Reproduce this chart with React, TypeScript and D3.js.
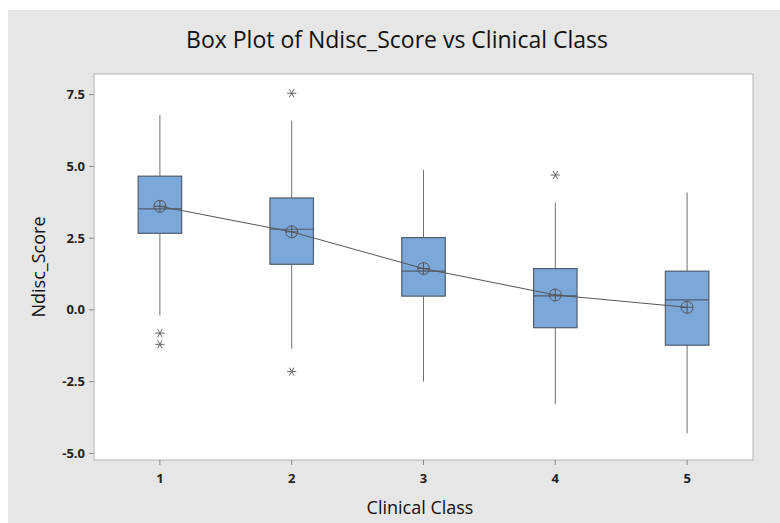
import * as d3 from "d3";

// Clinical classes and box statistics
const classes = [1, 2, 3, 4, 5];
const q1 = [2.67, 1.59, 0.48, -0.62, -1.23];
const median = [3.52, 2.81, 1.35, 0.49, 0.35];
const q3 = [4.66, 3.9, 2.52, 1.44, 1.35];
const whiskerLow = [-0.19, -1.36, -2.5, -3.28, -4.3];
const whiskerHigh = [6.79, 6.59, 4.88, 3.74, 4.09];
const means = [3.61, 2.72, 1.44, 0.52, 0.09];
const outliers = [
  [-0.81, -1.2],
  [7.55, -2.15],
  [],
  [4.7],
  [],
];
const yTicks = [-5, -2.5, 0, 2.5, 5, 7.5];

const W = 780;
const H = 523;
const plot = { left: 94, right: 753, top: 74, bottom: 460 };

const App = () => {
  const x = d3.scaleLinear().domain([0.5, 5.5]).range([plot.left, plot.right]);
  const y = d3.scaleLinear().domain([-5.23, 8.22]).range([plot.bottom, plot.top]);
  const boxW = (x(2) - x(1)) * 0.33;

  const meanLine = d3
    .line<number>()
    .x((_, i) => x(classes[i]))
    .y((d) => y(d));

  const star = d3.symbol(d3.symbolAsterisk, 60)();

  return (
    <svg
      width={W}
      height={H}
      style={{ position: "absolute", left: 0, top: 0 }}
      fontFamily="'Open Sans', sans-serif"
    >
      <rect x={8} y={10} width={W - 8} height={H - 10} fill="#e6e6e6" />
      <rect
        x={plot.left}
        y={plot.top}
        width={plot.right - plot.left}
        height={plot.bottom - plot.top}
        fill="#fff"
        stroke="#b4b4b4"
      />
      <text x={397} y={48} textAnchor="middle" fontSize={23} fill="#111">
        Box Plot of Ndisc_Score vs Clinical Class
      </text>

      {/* y axis */}
      {yTicks.map((t) => (
        <g key={t} transform={`translate(0,${y(t)})`}>
          <line x1={plot.left - 5} x2={plot.left} stroke="#888" />
          <text
            x={plot.left - 9}
            dy="0.35em"
            textAnchor="end"
            fontSize={13}
            fontWeight="bold"
            fill="#222"
          >
            {t.toFixed(1)}
          </text>
        </g>
      ))}
      <text
        transform={`translate(45,${(plot.top + plot.bottom) / 2}) rotate(-90)`}
        textAnchor="middle"
        fontSize={18}
        fill="#111"
      >
        Ndisc_Score
      </text>

      {/* x axis */}
      {classes.map((c) => (
        <g key={c} transform={`translate(${x(c)},${plot.bottom})`}>
          <line y1={0} y2={5} stroke="#888" />
          <text y={23} textAnchor="middle" fontSize={13} fontWeight="bold" fill="#222">
            {c}
          </text>
        </g>
      ))}
      <text x={420} y={514} textAnchor="middle" fontSize={18} fill="#111">
        Clinical Class
      </text>

      {/* boxes */}
      {classes.map((c, i) => {
        const cx = x(c);
        return (
          <g key={c}>
            <line x1={cx} x2={cx} y1={y(q3[i])} y2={y(whiskerHigh[i])} stroke="#707070" />
            <line x1={cx} x2={cx} y1={y(q1[i])} y2={y(whiskerLow[i])} stroke="#707070" />
            <rect
              x={cx - boxW / 2}
              y={y(q3[i])}
              width={boxW}
              height={y(q1[i]) - y(q3[i])}
              fill="#7ba7d9"
              stroke="#505d6c"
              strokeWidth={1.2}
            />
            <line
              x1={cx - boxW / 2}
              x2={cx + boxW / 2}
              y1={y(median[i])}
              y2={y(median[i])}
              stroke="#505d6c"
              strokeWidth={1.2}
            />
            {outliers[i].map((o, j) => (
              <path
                key={j}
                d={star}
                transform={`translate(${cx},${y(o)}) rotate(90)`}
                fill="none"
                stroke="#666"
                strokeWidth={1}
              />
            ))}
          </g>
        );
      })}

      <path d={meanLine(means)} fill="none" stroke="#555" strokeWidth={1} />
      {classes.map((c, i) => (
        <g key={c} transform={`translate(${x(c)},${y(means[i])})`} stroke="#555" fill="none">
          <circle r={6} />
          <line x1={-6} x2={6} />
          <line y1={-6} y2={6} />
        </g>
      ))}
    </svg>
  );
};

export default App;
